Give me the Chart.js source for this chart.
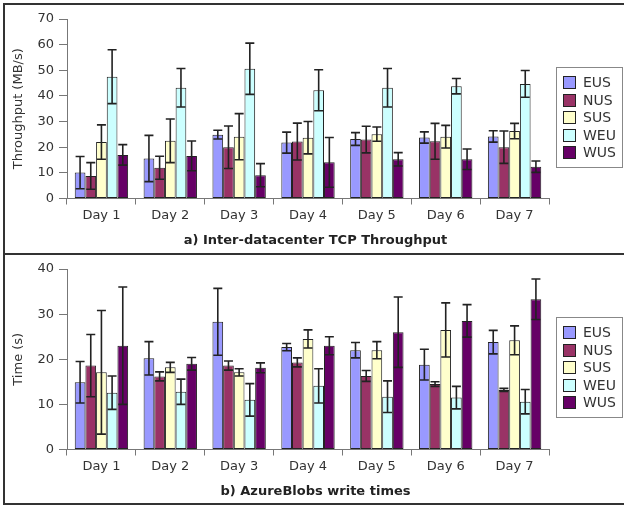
<!DOCTYPE html>
<html>
<head>
<meta charset="utf-8">
<script src="https://cdn.jsdelivr.net/npm/chart.js@4.4.1/dist/chart.umd.min.js"></script>
<style>
  html, body { margin: 0; padding: 0; background: #fff; overflow: hidden; }
  body { width: 624px; height: 506px; position: relative; }
  canvas { position: absolute; left: 0; }
  #topChart { top: 0; }
  #bottomChart { top: 255px; }
  .frame { position: absolute; left: 3px; top: 3px; width: 700px; height: 502px;
           box-sizing: border-box; border: 2px solid #333; }
  .divider { position: absolute; left: 3px; top: 253px; width: 700px; height: 2px; background: #333; }
</style>
</head>
<body>
<canvas id="topChart" width="624" height="255"></canvas>
<canvas id="bottomChart" width="624" height="251"></canvas>
<div class="frame"></div>
<div class="divider"></div>
<script>
const days = ['Day 1', 'Day 2', 'Day 3', 'Day 4', 'Day 5', 'Day 6', 'Day 7'];
const regions = ['EUS', 'NUS', 'SUS', 'WEU', 'WUS'];
const regionColors = ['#9999ff', '#993366', '#ffffcc', '#ccffff', '#660066'];

// a) throughput, MB/s (mean and +/- error)
const tcpEUS = [10.1, 15.6, 24.9, 21.8, 23.2, 23.8, 24.2];
const tcpNUS = [8.8, 12.0, 20.0, 22.2, 23.0, 22.3, 20.0];
const tcpSUS = [22.0, 22.5, 24.1, 23.7, 25.1, 24.1, 26.3];
const tcpWEU = [47.5, 43.2, 50.6, 42.2, 43.2, 43.8, 44.7];
const tcpWUS = [17.0, 16.6, 9.1, 14.1, 15.3, 15.3, 12.4];
const tcpEUSErr = [6.3, 9.0, 1.7, 4.1, 2.5, 2.2, 2.2];
const tcpNUSErr = [5.2, 4.5, 8.3, 7.2, 5.2, 7.0, 6.3];
const tcpSUSErr = [6.7, 8.5, 9.0, 6.3, 2.8, 4.4, 3.0];
const tcpWEUErr = [10.5, 7.5, 10.0, 8.0, 7.5, 3.0, 5.2];
const tcpWUSErr = [4.0, 5.8, 4.5, 9.7, 2.6, 4.0, 2.2];

// b) blob write times, s
const blobEUS = [14.9, 20.2, 28.3, 22.7, 22.0, 18.8, 23.8];
const blobNUS = [18.6, 16.2, 18.6, 19.3, 16.3, 14.5, 13.2];
const blobSUS = [17.1, 18.2, 17.1, 24.5, 22.0, 26.5, 24.2];
const blobWEU = [12.6, 12.8, 11.0, 14.1, 11.7, 11.5, 10.6];
const blobWUS = [23.0, 19.0, 18.1, 23.0, 26.0, 28.5, 33.3];
const blobEUSErr = [4.6, 3.7, 7.4, 0.8, 1.7, 3.4, 2.6];
const blobNUSErr = [6.9, 1.0, 1.0, 1.0, 1.2, 0.5, 0.35];
const blobSUSErr = [13.7, 1.1, 0.8, 2.0, 1.9, 6.0, 3.2];
const blobWEUErr = [3.7, 2.8, 3.6, 3.8, 3.5, 2.5, 2.7];
const blobWUSErr = [13.0, 1.4, 1.1, 2.0, 7.8, 3.6, 4.5];

const tcpTicks = [0, 10, 20, 30, 40, 50, 60, 70];
const blobTicks = [0, 10, 20, 30, 40];

Chart.defaults.font.family = '"DejaVu Sans", sans-serif';
Chart.defaults.font.size = 13;
Chart.defaults.color = '#333';

// draws the +/- whiskers on top of every bar
const errorBars = {
  id: 'errorBars',
  afterDatasetsDraw(chart) {
    const ctx = chart.ctx;
    const yScale = chart.scales.y;
    ctx.save();
    ctx.strokeStyle = '#222';
    ctx.lineWidth = 1.6;
    chart.data.datasets.forEach((ds, i) => {
      chart.getDatasetMeta(i).data.forEach((bar, j) => {
        const v = ds.data[j], e = ds.errors[j];
        const yHi = yScale.getPixelForValue(v + e);
        const yLo = yScale.getPixelForValue(v - e);
        const cap = 4.5;
        ctx.beginPath();
        ctx.moveTo(bar.x, yHi); ctx.lineTo(bar.x, yLo);
        ctx.moveTo(bar.x - cap, yHi); ctx.lineTo(bar.x + cap, yHi);
        ctx.moveTo(bar.x - cap, yLo); ctx.lineTo(bar.x + cap, yLo);
        ctx.stroke();
      });
    });
    ctx.restore();
  }
};

// boxed legend to the right of the plot
const boxLegend = {
  id: 'boxLegend',
  afterDraw(chart) {
    const { ctx, chartArea } = chart;
    const left = Math.round(chartArea.right) + 7;
    const top = Math.round(chartArea.top) + 48;
    ctx.save();
    ctx.strokeStyle = '#888';
    ctx.lineWidth = 1;
    ctx.strokeRect(left + 0.5, top + 0.5, 66, 100);
    ctx.font = '14px "DejaVu Sans"';
    ctx.textBaseline = 'middle';
    chart.data.datasets.forEach((ds, i) => {
      const y = Math.round(top + 9 + i * 17.6);
      ctx.fillStyle = ds.backgroundColor;
      ctx.fillRect(left + 7, y, 13, 13);
      ctx.strokeStyle = '#222';
      ctx.strokeRect(left + 7.5, y + 0.5, 12, 12);
      ctx.fillStyle = '#333';
      ctx.fillText(ds.label, left + 27, y + 7);
    });
    ctx.restore();
  }
};

function makeChart(id, series, errs, ticks, yTitle, title, padTop) {
  const datasets = regions.map((r, i) => ({
    label: r,
    data: series[i],
    errors: errs[i],
    backgroundColor: regionColors[i],
    borderColor: '#222',
    borderWidth: 1,
    borderSkipped: false,
    barPercentage: 1,
    categoryPercentage: 0.775
  }));

  return new Chart(document.getElementById(id), {
    type: 'bar',
    data: { labels: days, datasets: datasets },
    options: {
      responsive: false,
      animation: false,
      events: [],
      layout: { padding: { left: 7, right: 0, top: padTop, bottom: 6.8 } },
      plugins: {
        legend: { display: false },
        tooltip: { enabled: false },
        title: {
          display: true,
          position: 'bottom',
          text: title,
          color: '#222',
          font: { size: 13, weight: 'bold' },
          padding: { top: 5.5, bottom: 0 }
        }
      },
      scales: {
        x: {
          grid: { drawOnChartArea: false, tickLength: 6, color: '#777', offset: true },
          border: { color: '#777' },
          ticks: { padding: 3.5 }
        },
        y: {
          min: ticks[0],
          max: ticks[ticks.length - 1],
          afterBuildTicks: (s) => { s.ticks = ticks.map(v => ({ value: v })); },
          grid: { drawOnChartArea: false, tickLength: 8, color: '#777' },
          border: { color: '#777' },
          ticks: { padding: 5 },
          title: { display: true, text: yTitle, padding: { top: 4, bottom: 0 } },
          afterFit: (s) => { s.width = 60; }
        },
        yR: {
          position: 'right',
          display: true,
          grid: { display: false },
          border: { display: false },
          ticks: { display: false },
          afterFit: (s) => { s.width = 75; }
        }
      }
    },
    plugins: [errorBars, boxLegend]
  });
}

makeChart('topChart',
  [tcpEUS, tcpNUS, tcpSUS, tcpWEU, tcpWUS],
  [tcpEUSErr, tcpNUSErr, tcpSUSErr, tcpWEUErr, tcpWUSErr],
  tcpTicks, 'Throughput (MB/s)', 'a) Inter-datacenter TCP Throughput', 19);

makeChart('bottomChart',
  [blobEUS, blobNUS, blobSUS, blobWEU, blobWUS],
  [blobEUSErr, blobNUSErr, blobSUSErr, blobWEUErr, blobWUSErr],
  blobTicks, 'Time (s)', 'b) AzureBlobs write times', 14);
</script>
</body>
</html>
